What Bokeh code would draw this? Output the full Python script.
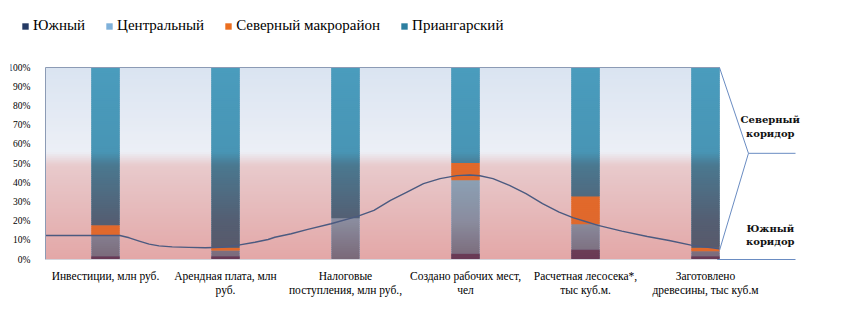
import numpy as np
from bokeh.plotting import figure
from bokeh.models import (ColumnDataSource, Range1d, FixedTicker, PrintfTickFormatter,
                          Arrow, Label)
from bokeh.embed import file_html
from bokeh.resources import INLINE

# ---------------- data (% of each column) ----------------
categories = ["Инвестиции, млн руб.",
              "Арендная плата, млн\nруб.",
              "Налоговые\nпоступления, млн руб.,",
              "Создано рабочих мест,\nчел",
              "Расчетная лесосека*,\nтыс куб.м.",
              "Заготовлено\nдревесины, тыс куб.м"]
series = ["Южный", "Центральный", "Северный макрорайон", "Приангарский"]
yuzhny = [1.7, 1.7, 0.0, 3.1, 5.2, 1.7]
centralny = [10.8, 3.0, 21.5, 38.2, 13.1, 2.6]
severny = [5.3, 1.4, 0.0, 9.0, 14.6, 1.8]
priangarsky = [82.2, 93.9, 78.5, 49.7, 67.1, 93.9]

# boundary curve between the "southern" and "northern" corridors,
# read along the drawn curve (x in category units, y in %)
curve_x = [-0.5, 0.12, 0.198, 0.281, 0.364, 0.446, 0.556, 0.694, 0.832, 0.969, 1.107,
           1.245, 1.355, 1.411, 1.548, 1.686, 1.879, 2.099, 2.237, 2.375, 2.512, 2.65,
           2.788, 2.926, 3.036, 3.12, 3.229, 3.366, 3.504, 3.642, 3.78, 3.895, 4.0,
           4.105, 4.303, 4.515, 4.697, 4.879, 5.117]
curve_y = [12.5, 12.5, 11.3, 9.6, 8.0, 7.1, 6.6, 6.3, 6.1, 6.4, 7.5,
           9.0, 10.4, 11.6, 13.4, 15.7, 18.6, 22.5, 25.6, 30.8, 35.1, 39.5,
           42.1, 43.7, 44.0, 43.6, 42.1, 38.6, 34.3, 29.1, 24.7, 21.8, 19.8,
           17.8, 14.8, 12.0, 9.9, 7.5, 5.6]

y_ticks = list(range(0, 101, 10))

# ---------------- styling ----------------
legend_colors = ["#243A64", "#7FB1DA", "#EB6E1F", "#2C7EA0"]
grad_stops = {
    "Южный": [(0, "#693955"), (10, "#6E4259"), (100, "#6E4259")],
    "Центральный": [(0, "#7A6878"), (20, "#8A8C9E"), (45, "#8BA3B8"), (100, "#8BA3B8")],
    "Северный макрорайон": [(0, "#E0692C"), (100, "#E2692A")],
    "Приангарский": [(0, "#5A5868"), (20, "#545E72"), (49, "#4A7890"), (56, "#4895B5"),
                     (100, "#4A9CBD")],
}
bg_stops = [(0, "#E3A7A7"), (49, "#E8CACC"), (56, "#ECEFF6"), (100, "#DAE4F1")]
bar_w = 0.233
SERIF = "Liberation Serif"


def to_rgb(h):
    return [int(h[i:i + 2], 16) for i in (1, 3, 5)]


def grad(stops, y):
    ys = [s[0] for s in stops]
    cols = np.array([to_rgb(s[1]) for s in stops], float)
    rgb = [int(round(np.interp(y, ys, cols[:, k]))) for k in range(3)]
    return "#%02x%02x%02x" % tuple(rgb)


def slices(lo, hi, step=1.0, overlap=0.45):
    out = []
    k = int(np.floor(lo / step))
    while k * step < hi:
        a = max(lo, k * step)
        b = min(hi, (k + 1) * step)
        if b > a:
            out.append((a, min(hi, b + overlap), (a + b) / 2))
        k += 1
    return out


pos = list(range(len(categories)))
x_right = pos[-1] + bar_w / 2

# frame spans x 10..844 px and y 10..266 px; 0..100 % maps to y 259..67 px,
# the legend sits above the 100 % line
PX = 1.92  # px per percent
x0 = -0.5 - 35 / 120
p = figure(width=844, height=327, output_backend="svg", toolbar_location=None,
           x_range=Range1d(x0, x0 + 834 / 120),
           y_range=Range1d(-7 / PX, 100 + 57 / PX),
           min_border_left=10, min_border_right=0, min_border_top=10, min_border_bottom=61)
p.outline_line_color = None
p.xgrid.visible = False
p.ygrid.visible = False
p.background_fill_color = "white"
p.border_fill_color = "white"

# background gradient of the plot area
bg = dict(left=[], right=[], bottom=[], top=[], color=[])
for a, b, m in slices(0, 100):
    bg["left"].append(-0.5)
    bg["right"].append(x_right)
    bg["bottom"].append(a)
    bg["top"].append(b)
    bg["color"].append(grad(bg_stops, m))
p.quad(left="left", right="right", bottom="bottom", top="top", fill_color="color",
       line_color=None, source=ColumnDataSource(bg))

# stacked bars
src = ColumnDataSource(dict(x=pos, **{series[0]: yuzhny, series[1]: centralny,
                                      series[2]: severny, series[3]: priangarsky}))
p.vbar_stack(series, x="x", width=bar_w, color=legend_colors, line_color=None,
             source=src, legend_label=series)

# gradient shading of the bar segments
sh = dict(left=[], right=[], bottom=[], top=[], color=[])
vals = [yuzhny, centralny, severny, priangarsky]
for i in pos:
    base = 0.0
    for s, v in zip(series, vals):
        top = base + v[i]
        for a, b, m in slices(base, top):
            sh["left"].append(i - bar_w / 2)
            sh["right"].append(i + bar_w / 2)
            sh["bottom"].append(a)
            sh["top"].append(b)
            sh["color"].append(grad(grad_stops[s], m))
        base = top
p.quad(left="left", right="right", bottom="bottom", top="top", fill_color="color",
       line_color=None, source=ColumnDataSource(sh))

# corridor curve
p.line(curve_x, curve_y, line_color="#4B5A80", line_width=1.4, line_join="round")

# frame lines and bracket
def seg(xa, ya, xb, yb, color, w=1.0):
    p.add_layout(Arrow(end=None, x_start=xa, y_start=ya, x_end=xb, y_end=yb,
                       line_color=color, line_width=w))

seg(-0.5, 100, x_right, 100, "#8C9BB5")
seg(-0.5, 0, -0.5, 100, "#8C9BB5")
seg(-0.5, 0, 5.1, 0, "#D4D4DC")
seg(x_right, 100, 5.358, 55.3, "#6A8CC2")
seg(5.358, 55.3, x_right, 4.7, "#6A8CC2")
seg(5.358, 55.3, 5.75, 55.3, "#6A8CC2")
seg(5.1, 0, 5.75, 0, "#6A8CC2")

for txt, yy in [("Северный", 72.9), ("коридор", 65.6), ("Южный", 16.4), ("коридор", 9.4)]:
    p.add_layout(Label(x=5.54, y=yy, text=txt, text_align="center", text_baseline="middle",
                       text_font="DejaVu Serif", text_font_style="bold",
                       text_font_size="10px", text_color="#111111"))

# axes
p.yaxis.fixed_location = -0.5
p.yaxis.ticker = FixedTicker(ticks=y_ticks, minor_ticks=[])
p.yaxis.formatter = PrintfTickFormatter(format="%d%%")
p.yaxis.axis_line_color = None
p.yaxis.major_tick_line_color = None
p.yaxis.minor_tick_line_color = None
p.yaxis.major_label_standoff = 9
p.yaxis.major_label_text_font = SERIF
p.yaxis.major_label_text_font_size = "9.5px"
p.yaxis.major_label_text_color = "#000000"

p.xaxis.ticker = FixedTicker(ticks=pos, minor_ticks=[])
p.xaxis.major_label_overrides = {i: c for i, c in zip(pos, categories)}
p.xaxis.axis_line_color = None
p.xaxis.major_tick_line_color = None
p.xaxis.minor_tick_line_color = None
p.xaxis.major_label_standoff = -3
p.xaxis.major_label_text_font = SERIF
p.xaxis.major_label_text_font_size = "11.5px"
p.xaxis.major_label_text_color = "#000000"

# legend
lg = p.legend[0]
lg.orientation = "horizontal"
lg.location = (11, 232)
lg.label_text_font = SERIF
lg.label_text_font_size = "15px"
lg.label_text_color = "#000000"
lg.glyph_width = 8
lg.glyph_height = 8
lg.label_height = 16
lg.label_standoff = 4
lg.spacing = 20
lg.padding = 0
lg.margin = 0
lg.border_line_color = None
lg.background_fill_alpha = 0

open("out.html", "w").write(file_html(p, INLINE))
